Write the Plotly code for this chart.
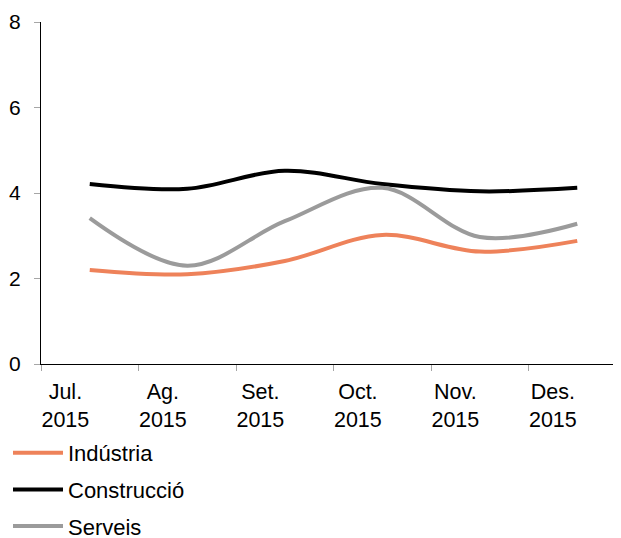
import plotly.graph_objects as go

categories = ["Jul.<br>2015", "Ag.<br>2015", "Set.<br>2015", "Oct.<br>2015", "Nov.<br>2015", "Des.<br>2015"]
industria = [2.20, 2.10, 2.41, 3.02, 2.63, 2.88]
construccio = [4.21, 4.10, 4.52, 4.21, 4.04, 4.12]
serveis = [3.41, 2.30, 3.34, 4.12, 2.97, 3.28]
yticks = [0, 2, 4, 6, 8]

FONT = "Liberation Sans, Arial, sans-serif"
xs = list(range(len(categories)))

fig = go.Figure()
series = [("Indústria", industria, "#EE825A"),
          ("Construcció", construccio, "#000000"),
          ("Serveis", serveis, "#9B9B9B")]
for name, vals, col in series:
    fig.add_trace(go.Scatter(x=xs, y=vals, name=name, mode="lines",
                             line=dict(color=col, width=4, shape="spline", smoothing=1),
                             legendgroup=name))

fig.update_layout(
    width=621, height=538,
    margin=dict(l=33, r=8, t=14, b=182, autoexpand=False),
    paper_bgcolor="white", plot_bgcolor="white",
    font=dict(family=FONT, size=21, color="#000000"),
    showlegend=True,
    legend=dict(xref="container", yref="container", x=0.0, y=1 - 424 / 538,
                xanchor="left", yanchor="top", orientation="v",
                itemwidth=50, tracegroupgap=5, font=dict(size=22),
                bgcolor="rgba(0,0,0,0)"),
)
fig.update_xaxes(
    range=[-0.5, -0.5 + 580 / 97.5],
    tickmode="array",
    tickvals=[i - 0.25 for i in xs],
    ticktext=categories,
    ticks="",
    showgrid=False, zeroline=False,
    showline=True, linecolor="#000000", linewidth=1,
    tickfont=dict(size=21.5),
    ticklabelstandoff=8,
    minor=dict(tickmode="linear", tick0=-0.5, dtick=1, ticks="outside",
               ticklen=6, tickcolor="#A6A6A6", tickwidth=1, showgrid=False),
)
fig.update_yaxes(
    range=[0, 8],
    tickmode="array", tickvals=yticks,
    ticks="outside", ticklen=6, tickcolor="#A6A6A6", tickwidth=1,
    showgrid=False, zeroline=False,
    showline=True, linecolor="#000000", linewidth=1,
    tickfont=dict(size=21),
    ticklabelstandoff=9,
)

fig.write_html("out.html")
